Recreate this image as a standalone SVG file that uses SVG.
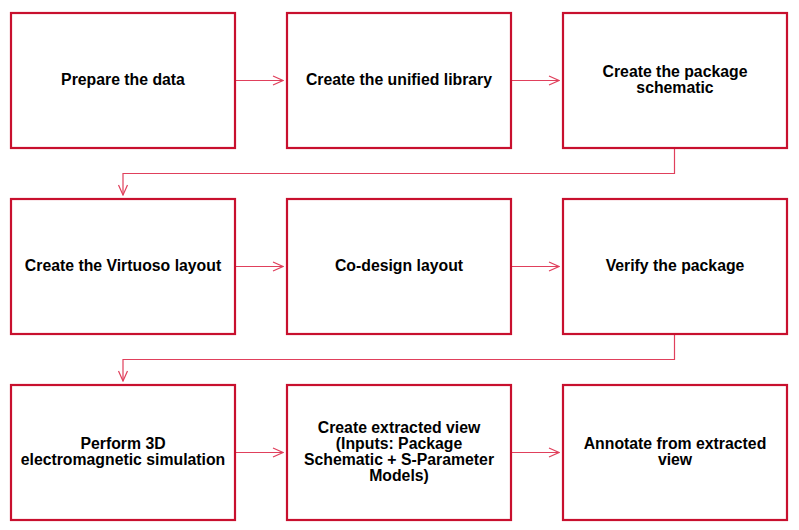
<svg xmlns="http://www.w3.org/2000/svg" width="799" height="530" viewBox="0 0 799 530">
<style>
.box{fill:#fff;stroke:#c8102e;stroke-width:2.2}
.lbl{font-family:"Liberation Sans",Arial,sans-serif;font-weight:bold;font-size:15.8px;fill:#000;text-anchor:middle}
.con{fill:none;stroke:#e0405c;stroke-width:1.2}
</style>
<defs>
<marker id="arr" viewBox="0 0 12 12" refX="11" refY="6" markerWidth="12" markerHeight="12" markerUnits="userSpaceOnUse" orient="auto">
<path d="M1,1.5 L11,6 L1,10.5" fill="none" stroke="#e0405c" stroke-width="1.2"/>
</marker>
</defs>
<rect width="799" height="530" fill="#fff"/>
<g id="connectors">
<path class="con" d="M235,80.5 H283" marker-end="url(#arr)"/>
<path class="con" d="M511,80.5 H559" marker-end="url(#arr)"/>
<path class="con" d="M674.5,148 V173.5 H123 V195" marker-end="url(#arr)"/>
<path class="con" d="M235,266.5 H283" marker-end="url(#arr)"/>
<path class="con" d="M511,266.5 H559" marker-end="url(#arr)"/>
<path class="con" d="M674.5,334 V359.5 H123 V381" marker-end="url(#arr)"/>
<path class="con" d="M235,452.5 H283" marker-end="url(#arr)"/>
<path class="con" d="M511,452.5 H559" marker-end="url(#arr)"/>
</g>
<g id="n1"><rect class="box" x="11" y="13" width="224" height="135"/><text class="lbl" x="123" y="85">Prepare the data</text></g>
<g id="n2"><rect class="box" x="287" y="13" width="224" height="135"/><text class="lbl" x="399" y="85">Create the unified library</text></g>
<g id="n3"><rect class="box" x="563" y="13" width="224" height="135"/><text class="lbl" x="675" y="76.5">Create the package</text><text class="lbl" x="675" y="92.5">schematic</text></g>
<g id="n4"><rect class="box" x="11" y="199" width="224" height="135"/><text class="lbl" x="123" y="271">Create the Virtuoso layout</text></g>
<g id="n5"><rect class="box" x="287" y="199" width="224" height="135"/><text class="lbl" x="399" y="271">Co-design layout</text></g>
<g id="n6"><rect class="box" x="563" y="199" width="224" height="135"/><text class="lbl" x="675" y="271">Verify the package</text></g>
<g id="n7"><rect class="box" x="11" y="385" width="224" height="135"/><text class="lbl" x="123" y="448.5">Perform 3D</text><text class="lbl" x="123" y="464.5">electromagnetic simulation</text></g>
<g id="n8"><rect class="box" x="287" y="385" width="224" height="135"/><text class="lbl" x="399" y="432.5">Create extracted view</text><text class="lbl" x="399" y="448.5">(Inputs: Package</text><text class="lbl" x="399" y="464.5">Schematic + S-Parameter</text><text class="lbl" x="399" y="480.5">Models)</text></g>
<g id="n9"><rect class="box" x="563" y="385" width="224" height="135"/><text class="lbl" x="675" y="448.5">Annotate from extracted</text><text class="lbl" x="675" y="464.5">view</text></g>
</svg>
